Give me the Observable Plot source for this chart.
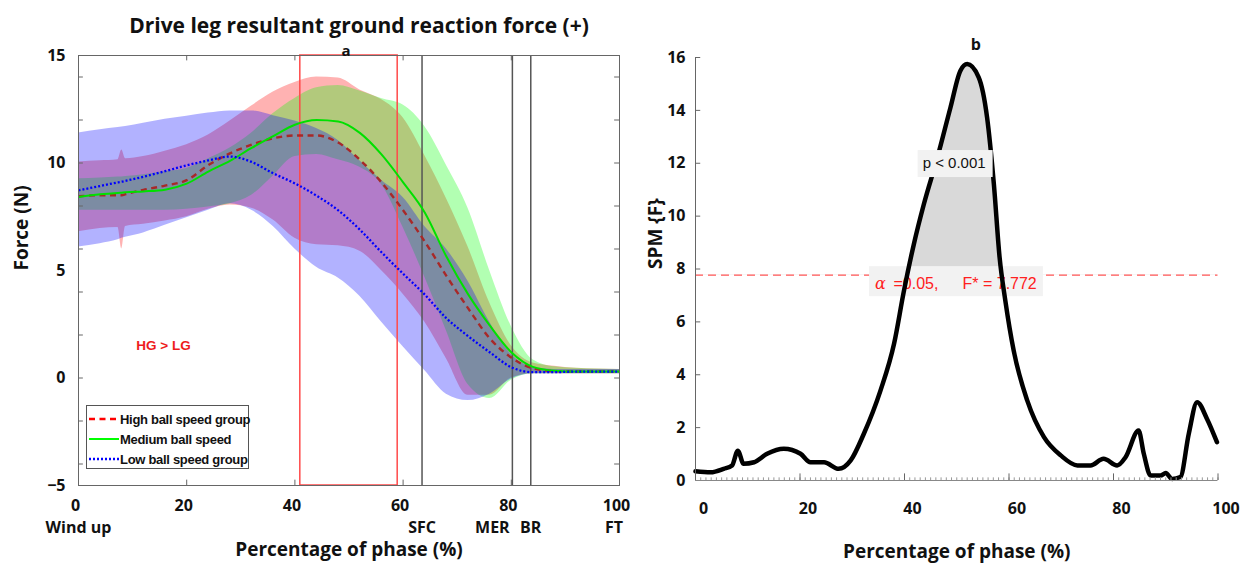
<!DOCTYPE html>
<html><head><meta charset="utf-8">
<script src="https://cdn.jsdelivr.net/npm/d3@7"></script>
<script src="https://cdn.jsdelivr.net/npm/@observablehq/plot@0.6"></script>
<style>
html,body{margin:0;padding:0;background:#fff;}
#root{position:relative;width:1257px;height:573px;overflow:hidden;background:#fff;}
#left,#right{position:absolute;top:0;}
#left{left:0;} #right{left:620px;}
#legend{position:absolute;left:86px;top:405px;width:161px;height:62px;border:1px solid #555;background:#fff;
  font-family:"Liberation Sans",Arial,sans-serif;font-weight:bold;font-size:13px;letter-spacing:-0.3px;color:#111;}
#legend .row{position:absolute;left:1px;height:20px;display:flex;align-items:center;white-space:nowrap;}
#legend svg{display:block;margin-right:1px;}
</style></head><body>
<div id="root"><div id="left"></div><div id="right"></div><div id="legend"></div></div>
<script>
// ---------- Panel a: drive leg resultant GRF (mean ± SD per group) ----------
const pct = [0,4,7.3,8,8.7,12,16,20,24,28,32,36,40,44,48,52,56,60,64,68,72,76,80,84,88,92,96,100];
const highMean  = [8.45,8.5,8.5,8.5,8.55,8.75,8.95,9.2,9.9,10.45,10.85,11.15,11.28,11.28,10.95,10.15,9.1,7.8,6.35,4.75,3.25,1.85,0.95,0.45,0.32,0.3,0.3,0.3];
const highUpper = [10.05,10.1,10.15,10.6,10.2,10.3,10.55,10.85,11.3,11.95,12.65,13.3,13.75,14.0,13.95,13.4,12.95,12.1,10.35,8.35,6.1,3.5,1.5,0.7,0.55,0.45,0.42,0.4];
const highLower = [6.8,6.95,7.0,6.0,7.05,7.15,7.3,7.5,7.85,8.05,7.9,7.35,6.5,6.2,6.15,5.9,5.0,3.9,2.6,0.9,-0.8,-0.8,0.0,0.2,0.2,0.2,0.2,0.2];
const medMean   = [8.42,8.55,8.6,8.62,8.64,8.68,8.76,9.04,9.6,10.1,10.7,11.25,11.78,12.0,11.93,11.4,10.4,9.1,7.7,5.65,3.9,2.45,1.2,0.52,0.34,0.3,0.3,0.3];
const medUpper  = [9.27,9.3,9.35,9.35,9.37,9.45,9.6,9.75,10.2,10.7,11.4,12.3,13.0,13.5,13.6,13.35,13.0,12.7,11.7,9.9,7.9,5.0,2.4,0.85,0.52,0.45,0.42,0.4];
const medLower  = [7.8,7.8,7.8,7.8,7.8,7.8,7.8,7.85,7.95,8.1,8.5,9.4,10.3,10.4,10.15,9.8,9.0,7.0,4.7,2.2,-0.3,-0.95,-0.1,0.2,0.2,0.2,0.2,0.2];
const lowMean   = [8.73,8.93,9.1,9.13,9.17,9.36,9.62,9.89,10.12,10.3,10.05,9.52,9.05,8.48,7.8,6.9,5.85,4.85,3.88,2.78,1.95,1.2,0.5,0.27,0.27,0.3,0.3,0.3];
const lowUpper  = [11.4,11.55,11.65,11.67,11.7,11.85,12.03,12.17,12.32,12.42,12.42,12.2,11.95,11.6,11.05,10.1,9.2,8.4,7.05,6.0,4.5,2.6,1.1,0.5,0.4,0.4,0.4,0.4];
const lowLower  = [6.09,6.25,6.43,6.5,6.55,6.75,7.1,7.45,7.8,8.1,7.8,7.05,6.0,5.15,4.65,3.8,2.6,1.45,0.35,-0.75,-1.05,-0.75,-0.05,0.2,0.2,0.2,0.2,0.2];

const groupNames = ["High ball speed group","Medium ball speed","Low ball speed group"];
const sigWindow = [41, 59];                 // significance window (HG > LG)
const eventPct = [63.5, 80.2, 83.6];        // SFC, MER, BR
const phaseNames = ["Wind up","SFC","MER","BR","FT"];
const phaseLabelPct = [0, 63.5, 76.5, 83.6, 99];
const xTicksA = [0,20,40,60,80,100];
const yLabelsA = [-5,0,5,10,15];
const yTicksA = [-4,-2,0,2,4,6,8,10,12,14];

// ---------- Panel b: SPM{F} ----------
const spmPct = [0,2.9,5.4,7.0,8.1,9.2,11.2,13.7,16.9,20.1,22,24.6,27.4,29.7,32.2,35.4,38,39.9,41.8,43.7,46.3,48.8,50.7,52,54.2,55.8,57.1,58.2,59.3,60.9,63.5,66.7,69.9,73.1,75.6,78.1,80.7,82.3,84.8,85.8,87.1,89,90,91.2,92.8,94.4,96,97.9,99.8];
const spmF   = [0.35,0.31,0.44,0.57,1.13,0.63,0.69,1.01,1.2,1.01,0.69,0.69,0.44,0.76,1.76,3.4,5.17,7.18,8.95,10.45,12.22,14.11,15.5,15.75,15.25,13.74,11.22,8.44,6.8,4.91,3.02,1.64,0.95,0.57,0.57,0.82,0.57,0.88,1.89,1.01,0.19,0.19,0.28,0.06,0.13,1.76,2.96,2.33,1.45];
const fCrit = 7.772;
const alphaLevel = 0.05;
const xTicksB = [0,20,40,60,80,100];
const yTicksB = [0,2,4,6,8,10,12,14,16];

// ---------- build ----------
const rows = pct.map((p,i)=>({pct:p,
  highMean:highMean[i], highUpper:highUpper[i], highLower:highLower[i],
  medMean:medMean[i], medUpper:medUpper[i], medLower:medLower[i],
  lowMean:lowMean[i], lowUpper:lowUpper[i], lowLower:lowLower[i]}));
const groups = [
  {mean:"highMean", lo:"highLower", hi:"highUpper", band:"#ff0000", line:"#a82828", legend:"#ff0000", dash:"6,4.5", w:2.4},
  {mean:"medMean",  lo:"medLower",  hi:"medUpper",  band:"#00ff00", line:"#00e000", legend:"#00ff00", dash:null, w:2},
  {mean:"lowMean",  lo:"lowLower",  hi:"lowUpper",  band:"#0000ff", line:"#0000ff", legend:"#0000ff", dash:"2,2", w:2.3}
];
const FONT = '"Open Sans","Noto Sans",sans-serif';
const phaseRows = phaseNames.map((n,i)=>({name:n, pct:phaseLabelPct[i]}));

const left = Plot.plot({
  width: 640, height: 573,
  marginLeft: 78, marginRight: 21, marginTop: 55, marginBottom: 88,
  x: {domain:[0,100]}, y: {domain:[-5,15]},
  style: {fontFamily: FONT, fontSize: "16px", fontWeight: "bold", background: "transparent", color: "#111"},
  marks: [
    ...groups.map(g => Plot.areaY(rows, {x:"pct", y1:g.lo, y2:g.hi, fill:g.band, fillOpacity:0.3, curve:"monotone-x"})),
    Plot.rect([sigWindow], {x1:d=>d[0], x2:d=>d[1], fill:"none", stroke:"#ff4a4a", strokeWidth:1.5}),
    Plot.ruleX(eventPct, {stroke:"#555", strokeWidth:1.5}),
    ...groups.map(g => Plot.lineY(rows, {x:"pct", y:g.mean, stroke:g.line, strokeWidth:g.w, strokeDasharray:g.dash, strokeLinecap:"butt", curve:"monotone-x"})),
    Plot.frame({stroke:"#666"}),
    Plot.ruleX(xTicksA.slice(1,-1), {x:d=>d, y1:-5, y2:-4.75, stroke:"#666"}),
    Plot.ruleX(xTicksA.slice(1,-1), {x:d=>d, y1:15, y2:14.75, stroke:"#666"}),
    Plot.ruleY(yTicksA, {y:d=>d, x1:0, x2:0.9, stroke:"#666"}),
    Plot.ruleY(yTicksA, {y:d=>d, x1:100, x2:99.1, stroke:"#666"}),
    Plot.axisY(yLabelsA, {tickSize:0, tickPadding:13, label:null}),
    Plot.axisX(xTicksA, {tickSize:0, tickPadding:14, dx:-3, label:null}),
    Plot.text(phaseRows, {x:"pct", text:"name", frameAnchor:"bottom", dy:47}),
    Plot.text(["HG > LG"], {x:15.7, y:1.5, fill:"#ee1c1c", fontFamily:'"Liberation Sans",Arial,sans-serif', fontSize:13.5}),
    Plot.text(["a"], {frameAnchor:"top", dy:-10, dx:-3, fontSize:15}),
    Plot.text(["Drive leg resultant ground reaction force (+)"], {frameAnchor:"top", dy:-37, dx:10, fontSize:21, fontWeight:"bold"}),
    Plot.text(["Percentage of phase (%)"], {frameAnchor:"bottom", dy:70, fontSize:19}),
    Plot.text(["Force (N)"], {frameAnchor:"left", dx:-57, rotate:-90, fontSize:19})
  ]
});
document.getElementById("left").appendChild(left);

const spm = spmPct.map((p,i)=>({pct:p, f:spmF[i]}));
const right = Plot.plot({
  width: 637, height: 573,
  marginLeft: 75, marginRight: 39.5, marginTop: 57, marginBottom: 93,
  x: {domain:[0,100]}, y: {domain:[0,16]},
  style: {fontFamily: FONT, fontSize: "16px", fontWeight: "bold", background: "transparent", color: "#111"},
  marks: [
    Plot.areaY(spm, {x:"pct", y1:fCrit, y2:"f", fill:"#d9d9d9", curve:"monotone-x"}),
    Plot.ruleY([fCrit], {stroke:"#ff5555", strokeWidth:1.3, strokeDasharray:"8,5"}),
    Plot.text(["\u03B1"], {x:35.4, y:fCrit, dy:9, fill:"#ff2020", fontFamily:'"DejaVu Serif",serif', fontStyle:"italic", fontWeight:"normal", fontSize:16}),
    Plot.text([`=${alphaLevel},`], {x:37.9, y:fCrit, dy:9, textAnchor:"start", fill:"#ff2020", fontFamily:'"Liberation Sans",Arial,sans-serif', fontWeight:"normal", fontSize:16}),
    Plot.text([`F* = ${fCrit}`], {x:51.1, y:fCrit, dy:9, textAnchor:"start", fill:"#ff2020", fontFamily:'"Liberation Sans",Arial,sans-serif', fontWeight:"normal", fontSize:16}),
    Plot.lineY(spm, {x:"pct", y:"f", stroke:"#000", strokeWidth:4.5, curve:"monotone-x", strokeLinejoin:"round"}),
    Plot.text(["p < 0.001"], {x:49.5, y:12.0, fill:"#111", fontFamily:'"Liberation Sans",Arial,sans-serif', fontWeight:"normal", fontSize:15}),
    Plot.ruleX([0], {stroke:"#666"}),
    Plot.ruleY([0], {stroke:"#888"}),
    Plot.ruleX(d3.range(1,101), {x:d=>d, y1:0, y2:0.1, stroke:"#999"}),
    Plot.ruleX(xTicksB.slice(1), {x:d=>d, y1:0, y2:0.25, stroke:"#666"}),
    Plot.ruleY(yTicksB.slice(1), {y:d=>d, x1:0, x2:1, stroke:"#666"}),
    Plot.axisY(yTicksB, {tickSize:0, tickPadding:10, label:null}),
    Plot.axisX(xTicksB, {tickSize:0, tickPadding:22, dx:8, label:null}),
    Plot.text(["b"], {frameAnchor:"top", dy:-19, dx:19, fontSize:16}),
    Plot.text(["Percentage of phase (%)"], {frameAnchor:"bottom", dy:77, fontSize:19}),
    Plot.text(["SPM {F}"], {frameAnchor:"left", dx:-40, rotate:-90, fontSize:19})
  ]
});
document.getElementById("right").appendChild(right);

// clip the supra-threshold fill to the region above F*
const yT = right.scale("y").apply(fCrit);
const svgns = "http://www.w3.org/2000/svg";
const sel = d3.select(right);
sel.append("defs").append("clipPath").attr("id","aboveThr")
  .append("rect").attr("x",0).attr("y",0).attr("width",637).attr("height",yT);
sel.select('g[aria-label="area"]').attr("clip-path","url(#aboveThr)");

// light label boxes behind annotation texts (found by their content)
function groupOf(txt){
  for (const t of right.querySelectorAll("text")) if (t.textContent === txt) return t.parentNode;
  return null;
}
function boxBehind(texts, pad, fill){
  const gs = texts.map(groupOf).filter(Boolean);
  if (!gs.length) return;
  let x0=Infinity,y0=Infinity,x1=-Infinity,y1=-Infinity;
  for (const g of gs){ const b=g.getBBox(); x0=Math.min(x0,b.x); y0=Math.min(y0,b.y); x1=Math.max(x1,b.x+b.width); y1=Math.max(y1,b.y+b.height); }
  const r = document.createElementNS(svgns,"rect");
  r.setAttribute("x", x0-pad[0]); r.setAttribute("y", y0-pad[2]);
  r.setAttribute("width", x1-x0+pad[0]+pad[1]); r.setAttribute("height", y1-y0+pad[2]+pad[3]);
  r.setAttribute("fill", fill);
  gs[0].insertBefore(r, gs[0].firstChild);
}
boxBehind(["\u03B1", `=${alphaLevel},`, `F* = ${fCrit}`], [6,6,8,3], "#f2f2f2");
boxBehind(["p < 0.001"], [5,7,4,6], "#f2f2f2");

// legend
const leg = document.getElementById("legend");
groups.forEach((g,i)=>{
  const row = document.createElement("div");
  row.className = "row"; row.style.top = (3 + i*20) + "px";
  row.innerHTML = `<svg width="31" height="20"><line x1="1" y1="10" x2="31" y2="10" stroke="${g.legend}" stroke-width="${g.w}" ${g.dash?`stroke-dasharray="${g.dash}"`:""}/></svg><span>${groupNames[i]}</span>`;
  leg.appendChild(row);
});
</script>
</body></html>
